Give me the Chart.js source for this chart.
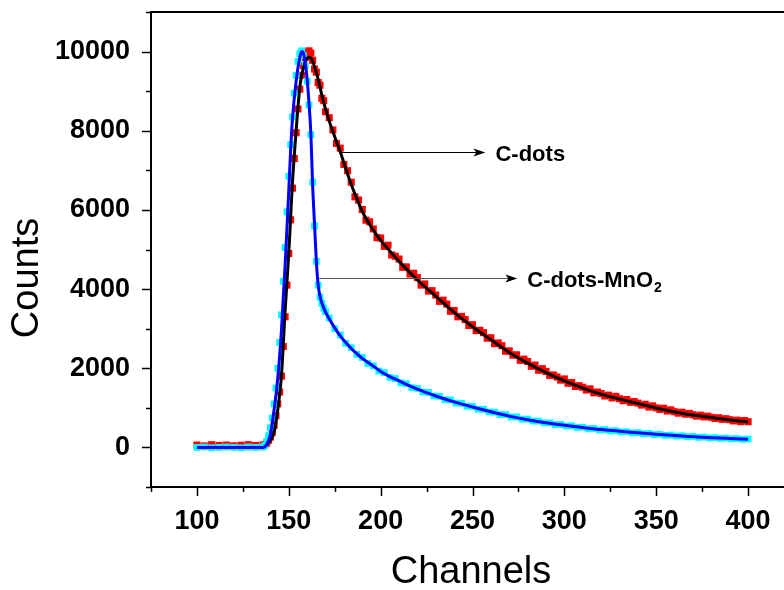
<!DOCTYPE html>
<html>
<head>
<meta charset="utf-8">
<script src="https://cdn.jsdelivr.net/npm/chart.js@4.4.0/dist/chart.umd.min.js"></script>
<style>
html,body{margin:0;padding:0;background:#fff;overflow:hidden;width:784px;height:590px;}
canvas{display:block;}
</style>
</head>
<body>
<canvas id="c" width="800" height="590"></canvas>
<script>
// ---- data ----
const cdotsChannels = [100,104,108,112,116,120,124,128,132,136,
137,138,139,140,141,142,143,144,145,146,147,148,149,150,151,152,153,154,155,156,157,158,159,160,161,162,163,164,165,166,167,168,169,170,
172,174,176,178,180,182,184,186,188,190,192,194,196,198,200,202,204,206,208,210,212,214,216,218,220,222,224,226,228,230,232,234,236,238,240,242,244,246,248,250,252,254,256,258,260,262,264,266,268,270,272,274,276,278,280,282,284,286,288,290,292,294,296,298,300,302,304,306,308,310,312,314,316,318,320,322,324,326,328,330,332,334,336,338,340,342,344,346,348,350,352,354,356,358,360,362,364,366,368,370,372,374,376,378,380,382,384,386,388,390,392,394,396,398,400];

const cdotsCounts = [60,40,70,50,60,40,55,70,50,60,
70,110,180,260,380,560,800,1100,1400,1800,2550,3300,4100,4900,5750,6550,7300,7950,8550,9050,9400,9650,9850,9980,10020,9960,9780,9560,9480,9220,9150,8820,8760,8480,
8330,8020,7680,7560,7150,6990,6700,6330,6250,6010,5740,5700,5520,5300,5290,5080,5110,4860,4830,4760,4550,4560,4380,4400,4290,4100,4130,3950,3960,3850,3690,3720,3620,3440,3460,3300,3310,3230,3080,3100,2950,2960,2900,2760,2770,2620,2640,2570,2430,2440,2330,2340,2200,2230,2170,2050,2080,1950,1990,1920,1820,1830,1780,1700,1730,1620,1640,1540,1560,1520,1450,1480,1380,1400,1360,1300,1320,1250,1290,1230,1180,1210,1140,1160,1120,1070,1090,1020,1050,1000,960,990,920,950,900,865,890,840,860,825,790,815,770,790,760,730,750,710,725,700,670,690,650,680,650];

const mnoChannels = [100,104,108,112,116,120,124,128,132,136,
137,138,139,140,141,142,143,144,145,146,147,148,149,150,151,152,153,154,155,156,157,158,159,160,161,162,163,164,165,166,167,168,169,170,
172,175,178,181,184,187,190,193,196,199,202,205,208,211,214,217,220,223,226,229,232,235,238,241,244,247,250,253,256,259,262,265,268,271,274,277,280,283,286,289,292,295,298,301,304,307,310,313,316,319,322,325,328,331,334,337,340,343,346,349,352,355,358,361,364,367,370,373,376,379,382,385,388,391,394,397,400];

const mnoCounts = [0,10,-10,0,10,0,-10,10,0,10,
50,150,300,500,750,1100,1500,2000,2650,3350,4200,5050,5950,6850,7650,8350,8950,9400,9750,9950,10020,9900,9650,9250,8650,7900,6700,5600,4700,4100,3800,3640,3520,3430,
3270,3000,2840,2630,2520,2350,2270,2120,2060,1930,1890,1770,1740,1630,1610,1510,1490,1400,1390,1300,1290,1205,1200,1120,1115,1040,1035,965,965,895,890,830,830,770,770,715,715,665,665,620,620,578,580,540,545,505,510,472,478,442,448,415,422,390,398,366,374,344,352,324,332,304,312,286,294,270,278,254,262,240,248,228,236,216,224,206,212];

const fitChannels = [100,120,136,138,140,142,144,146,148,150,151,152,154,156,157,158,159,160,161,162,163,164,165,166,167,168,170,172,175,178,181,184,187,190,195,200,205,210,220,230,240,250,260,270,280,290,300,310,320,330,340,350,360,370,380,390,400];

const cdotsFit = [0,0,0,60,180,380,950,1800,3450,4900,5800,6700,8000,9100,9400,9600,9750,9830,9860,9840,9750,9620,9470,9300,9100,8900,8550,8250,7850,7470,7050,6640,6290,5960,5560,5230,4960,4700,4230,3820,3410,3050,2720,2400,2130,1890,1680,1500,1345,1220,1110,995,895,820,755,695,645];

const mnoFit = [0,0,0,80,330,950,1750,2950,4600,6500,7500,8300,9250,9850,10000,9950,9700,9300,8700,7950,6600,5650,4700,4100,3820,3650,3420,3250,3020,2820,2650,2500,2370,2250,2090,1920,1790,1680,1470,1300,1150,1020,900,790,700,625,560,503,450,410,368,330,300,272,247,227,209];

const xTickLabels = [100,150,200,250,300,350,400];
const yTickLabels = [0,2000,4000,6000,8000,10000];

// annotation labels (arrow from curve to label), in data units
const annoText   = ['C-dots', 'C-dots-MnO'];
const annoSub    = ['', '2'];
const annoY      = [7460, 4290];
const annoXStart = [178.3, 166.6];
const annoXEnd   = [257, 274.4];
const annoXText  = [262.5, 279.8];
const annoLineColor = ['#000000', '#555555'];

const xTitle = 'Channels';
const yTitle = 'Counts';

// ---- build chart ----
const pts = (xs, ys) => xs.map((v, i) => ({x: v, y: ys[i]}));
const FONT = "'Liberation Sans', Arial, sans-serif";

const decor = {
  id: 'decor',
  afterDraw(chart) {
    const {ctx, chartArea: a, scales: {x, y}} = chart;
    ctx.save();
    ctx.strokeStyle = '#000';
    ctx.lineWidth = 2;
    ctx.beginPath();
    ctx.moveTo(a.left - 1, a.top);
    ctx.lineTo(a.right, a.top);
    ctx.lineTo(a.right, a.bottom);
    ctx.stroke();
    ctx.lineWidth = 1.5;
    x.ticks.forEach(t => {
      const px = Math.round(x.getPixelForValue(t.value)) + 0.5;
      const major = xTickLabels.includes(t.value);
      ctx.beginPath();
      ctx.moveTo(px, a.bottom);
      ctx.lineTo(px, a.bottom + (major ? 9 : 5));
      ctx.stroke();
    });
    y.ticks.forEach(t => {
      const py = Math.round(y.getPixelForValue(t.value)) + 0.5;
      const major = yTickLabels.includes(t.value);
      ctx.beginPath();
      ctx.moveTo(a.left, py);
      ctx.lineTo(a.left - (major ? 9 : 5), py);
      ctx.stroke();
    });
    annoText.forEach((txt, i) => {
      const yy = Math.round(y.getPixelForValue(annoY[i])) + 0.5;
      const x0 = x.getPixelForValue(annoXStart[i]);
      const x1 = x.getPixelForValue(annoXEnd[i]);
      ctx.strokeStyle = annoLineColor[i];
      ctx.lineWidth = 1;
      ctx.beginPath();
      ctx.moveTo(x0, yy);
      ctx.lineTo(x1 - 8, yy);
      ctx.stroke();
      ctx.fillStyle = '#000';
      ctx.beginPath();
      ctx.moveTo(x1, yy);
      ctx.lineTo(x1 - 12, yy - 4);
      ctx.lineTo(x1 - 9, yy);
      ctx.lineTo(x1 - 12, yy + 4);
      ctx.closePath();
      ctx.fill();
      const tx = x.getPixelForValue(annoXText[i]);
      ctx.font = 'bold 22px ' + FONT;
      ctx.textAlign = 'left';
      ctx.textBaseline = 'middle';
      ctx.fillText(txt, tx, yy + 2);
      if (annoSub[i]) {
        const w = ctx.measureText(txt).width;
        ctx.font = 'bold 14px ' + FONT;
        ctx.fillText(annoSub[i], tx + w + 1, yy + 10);
      }
    });
    ctx.fillStyle = '#000';
    ctx.font = '38px ' + FONT;
    ctx.textAlign = 'center';
    ctx.textBaseline = 'middle';
    ctx.fillText(xTitle, 471, 573);
    ctx.translate(28, 278);
    ctx.rotate(-Math.PI / 2);
    ctx.fillText(yTitle, 0, 0);
    ctx.restore();
  }
};

new Chart(document.getElementById('c'), {
  type: 'scatter',
  data: {
    datasets: [
      {label: 'C-dots-MnO2 fit', data: pts(fitChannels, mnoFit), showLine: true, borderColor: '#0000ff', borderWidth: 3, pointRadius: 0, cubicInterpolationMode: 'monotone', fill: false},
      {label: 'C-dots fit', data: pts(fitChannels, cdotsFit), showLine: true, borderColor: '#000000', borderWidth: 3, pointRadius: 0, cubicInterpolationMode: 'monotone', fill: false},
      {label: 'C-dots-MnO2', data: pts(mnoChannels, mnoCounts), showLine: false, pointStyle: 'rect', pointRadius: 4.8, pointBorderWidth: 0, backgroundColor: '#00ffff', borderColor: '#00ffff'},
      {label: 'C-dots', data: pts(cdotsChannels, cdotsCounts), showLine: false, pointStyle: 'rect', pointRadius: 5, pointBorderWidth: 0, backgroundColor: '#ff0000', borderColor: '#ff0000'}
    ]
  },
  options: {
    responsive: false,
    devicePixelRatio: 1,
    animation: false,
    events: [],
    layout: {padding: {left: 0, top: 12, right: 6, bottom: 0}},
    plugins: {legend: {display: false}, tooltip: {enabled: false}},
    scales: {
      x: {
        type: 'linear', min: 75, max: 425,
        afterFit: s => { s.height = 103; s.paddingLeft = 0; s.paddingRight = 0; },
        border: {display: true, color: '#000', width: 2},
        grid: {display: true, drawOnChartArea: false, drawTicks: false},
        ticks: {
          stepSize: 25, autoSkip: false, maxRotation: 0, padding: 18, color: '#000',
          font: {family: FONT, size: 27, weight: 'bold'},
          callback: v => xTickLabels.includes(v) ? String(v) : ''
        }
      },
      y: {
        type: 'linear', min: -1000, max: 11000,
        afterFit: s => { s.width = 151; s.paddingTop = 0; s.paddingBottom = 0; },
        border: {display: true, color: '#000', width: 2},
        grid: {display: true, drawOnChartArea: false, drawTicks: false},
        ticks: {
          stepSize: 1000, autoSkip: false, padding: 21, color: '#000',
          font: {family: FONT, size: 27, weight: 'bold'},
          callback: v => yTickLabels.includes(v) ? String(v) : ''
        }
      }
    }
  },
  plugins: [decor]
});
</script>
</body>
</html>
